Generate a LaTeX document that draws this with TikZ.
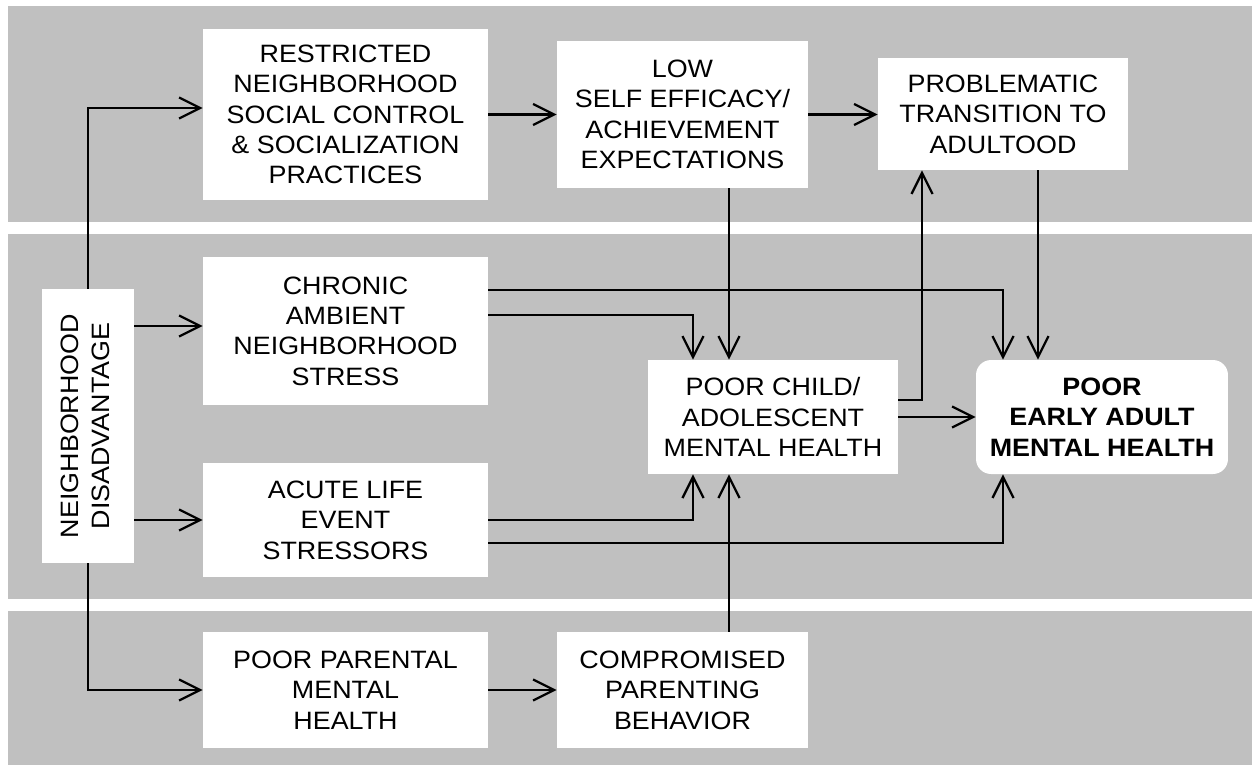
\documentclass[tikz,border=0pt]{standalone}
\usepackage{fontspec}
\setmainfont{Liberation Sans}[FakeStretch=1.07]
\usetikzlibrary{arrows.meta}
\definecolor{bandgray}{RGB}{192,192,192}

\begin{document}
\begin{tikzpicture}[x=0.02cm, y=-0.02cm,
    box/.style={fill=white, align=center, inner sep=0pt, font=\fontsize{14.3}{17.3}\selectfont},
    arr/.style={line width=1.3pt, -{Straight Barb[length=12pt,width=12pt]}}]
    \useasboundingbox (0,0) rectangle (1252,769);
    \fill[bandgray] (8,6) rectangle (1252,222);
    \fill[bandgray] (8,234) rectangle (1252,599);
    \fill[bandgray] (8,611) rectangle (1252,765);

    \node[box, minimum width=5.7cm, minimum height=3.42cm] (restr) at (345.5,114.5) {RESTRICTED\\NEIGHBORHOOD\\SOCIAL CONTROL\\\& SOCIALIZATION\\PRACTICES};
    \node[box, minimum width=5.02cm, minimum height=2.94cm] (lowse) at (682.5,114.5) {LOW\\SELF EFFICACY/\\ACHIEVEMENT\\EXPECTATIONS};
    \node[box, minimum width=5cm, minimum height=2.24cm] (trans) at (1003,114) {PROBLEMATIC\\TRANSITION TO\\ADULTOOD};
    \node[box, minimum width=1.84cm, minimum height=5.48cm] (nd) at (88,426) {\rotatebox{90}{\begin{tabular}{@{}c@{}}NEIGHBORHOOD\\DISADVANTAGE\end{tabular}}};
    \node[box, minimum width=5.7cm, minimum height=2.96cm] (chron) at (345.5,331) {CHRONIC\\AMBIENT\\NEIGHBORHOOD\\STRESS};
    \node[box, minimum width=5.7cm, minimum height=2.28cm] (acute) at (345.5,520) {ACUTE LIFE\\EVENT\\STRESSORS};
    \node[box, minimum width=5cm, minimum height=2.28cm] (child) at (773,417) {POOR CHILD/\\ADOLESCENT\\MENTAL HEALTH};
    \node[box, rounded corners=0.3cm, minimum width=5.04cm, minimum height=2.28cm, font=\fontsize{14.3}{17.3}\selectfont\bfseries] (adult) at (1102,417) {POOR\\EARLY ADULT\\MENTAL HEALTH};
    \node[box, minimum width=5.7cm, minimum height=2.32cm] (parent) at (345.5,690) {POOR PARENTAL\\MENTAL\\HEALTH};
    \node[box, minimum width=5.02cm, minimum height=2.32cm] (comp) at (682.5,690) {COMPROMISED\\PARENTING\\BEHAVIOR};

    % ports on the two outcome boxes
    \coordinate (cn1) at ([xshift=-1.6cm]child.north);
    \coordinate (cn2) at ([xshift=-0.88cm]child.north);
    \coordinate (cs1) at ([xshift=-1.6cm]child.south);
    \coordinate (cs2) at ([xshift=-0.88cm]child.south);
    \coordinate (an1) at ([xshift=-1.98cm]adult.north);
    \coordinate (an2) at ([xshift=-1.28cm]adult.north);
    \coordinate (as1) at ([xshift=-1.98cm]adult.south);
    \coordinate (tp) at ([xshift=-1.62cm]trans.south);

    \draw[arr] (nd.north) |- ([yshift=0.13cm]restr.west);
    \draw[arr] ([yshift=0.1cm]nd.east |- chron.west) -- ([yshift=0.1cm]chron.west);
    \draw[arr] (nd.east |- acute.west) -- (acute.west);
    \draw[arr] (nd.south) |- (parent.west);
    \draw[arr] (restr.east) -- (lowse.west);
    \draw[arr] (lowse.east) -- (trans.west |- lowse.east);
    \draw[arr] (cn2 |- lowse.south) -- (cn2);
    \draw[arr] ([yshift=0.82cm]chron.east) -| (an1);
    \draw[arr] ([yshift=0.32cm]chron.east) -| (cn1);
    \draw[arr] ([yshift=0.34cm]child.east) -| (tp);
    \draw[arr] (child.east) -- (adult.west);
    \draw[arr] (an2 |- trans.south) -- (an2);
    \draw[arr] (acute.east) -| (cs1);
    \draw[arr] ([yshift=-0.46cm]acute.east) -| (as1);
    \draw[arr] (cs2 |- comp.north) -- (cs2);
    \draw[arr] (parent.east) -- (comp.west);
\end{tikzpicture}
\end{document}
